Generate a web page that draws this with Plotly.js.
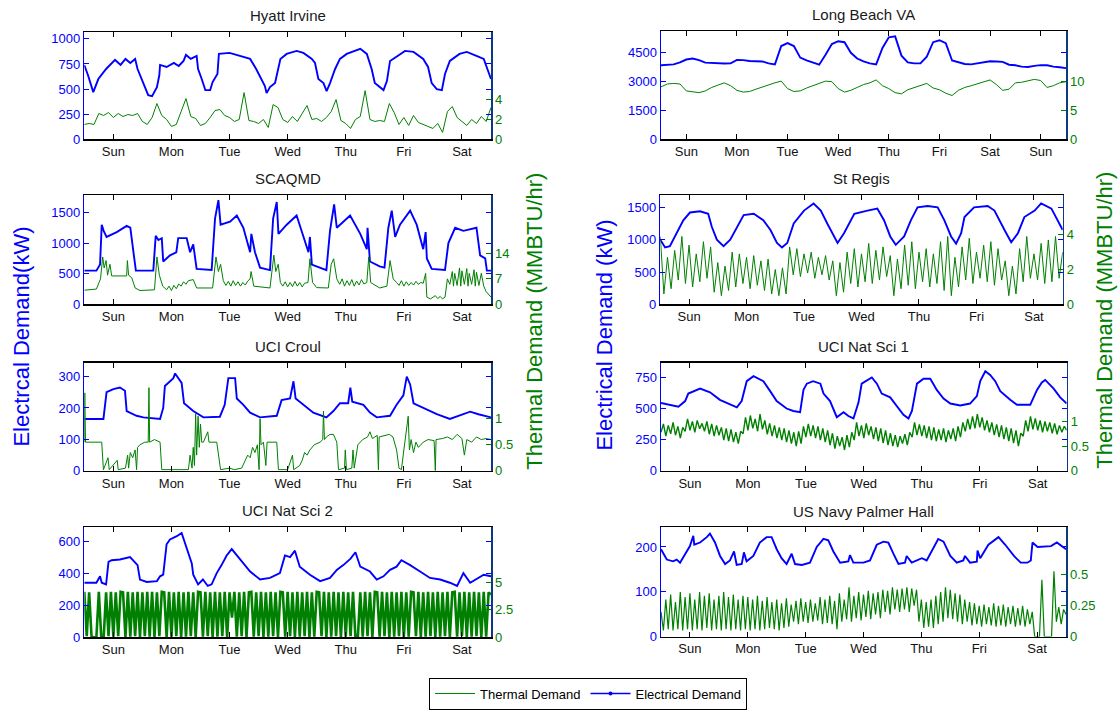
<!DOCTYPE html>
<html><head><meta charset="utf-8">
<script src="https://cdn.plot.ly/plotly-3.0.1.min.js"></script>
<style>html,body{margin:0;padding:0;background:#fff}#chart{width:1118px;height:710px}</style>
</head><body><div id="chart"></div>
<script>
// ---------- tick labels / titles ----------
const dayLabels = ['Sun','Mon','Tue','Wed','Thu','Fri','Sat','Sun'];
const panelTitles = ['Hyatt Irvine','Long Beach VA','SCAQMD','St Regis','UCI Croul','UCI Nat Sci 1','UCI Nat Sci 2','US Navy Palmer Hall'];

// ---------- Hyatt Irvine ----------
const hyattElecHours = [0,1.5,3.7,5.8,9,12.7,15,17,19,21,22,24.4,26.4,28,30,31,31.3,34,37,39,41,42,44,46.4,47,48.5,50,52,53,55,55.6,60,65.7,68.5,71,73,74.6,75.3,76.7,78.8,81,83.6,87.7,90.5,94,95.3,96.7,98.8,100.1,101.5,103.6,105.6,108.4,114,116.7,118.7,120,123.6,125,126.3,129,132.5,136,140,142,143.5,145.6,147.7,149,151,155,158,162,165,168];
const hyattElec = [740,640,470,600,700,790,740,800,760,800,700,560,440,430,520,640,740,720,760,730,780,840,800,830,700,600,490,490,570,650,850,860,820,800,700,600,530,460,520,560,800,850,880,860,800,760,600,560,480,560,700,800,850,900,850,700,560,490,580,780,820,880,870,800,720,560,500,490,650,780,850,870,830,800,600];
const hyattThermal = [1.5,1.6,1.5,2.6,2.4,2.7,2.2,2.6,2.3,2.5,2.4,2.6,1.8,1.5,2.2,3.6,2.4,2.0,1.3,1.5,2.8,4.1,2.3,2.1,1.4,1.6,2.2,2.9,3.0,2.4,2.2,1.8,2.0,4.7,1.9,1.8,1.6,2.0,1.2,3.5,3.2,2.0,1.7,2.3,1.8,2.6,3.4,2.0,2.1,1.8,2.2,2.8,4.0,1.9,1.6,1.1,2.0,2.3,4.9,2.0,1.8,1.9,1.8,3.6,2.7,1.5,2.2,1.4,2.4,1.7,1.5,1.3,1.1,1.6,0.7,2.8,3.3,2.2,1.8,1.4,2.0,1.6,2.3,1.8,3.2];

// ---------- Long Beach VA (3 h samples, 8 days) ----------
const lbElec = [3850,3860,3900,4000,4150,4200,4120,3990,3970,3950,3940,3950,4130,4120,4070,4060,4050,3950,3900,4850,5000,4850,4250,4100,3980,3880,4400,4950,5100,5050,4500,4200,4050,3950,3900,4750,5300,5350,4350,4000,3950,3950,4300,5050,5150,5000,4100,4000,3920,3900,3950,4030,4060,4050,4030,3880,3850,3780,3760,3820,3860,3850,3780,3750,3700];
const lbThermal = [9.1,9.6,9.7,9.6,8.4,8.2,8.1,8.4,9.0,9.4,9.8,9.3,8.5,8.2,8.3,8.7,9.1,9.4,9.8,10.1,8.8,8.3,8.4,8.9,9.3,9.7,10.1,10.0,8.8,8.2,8.5,9.0,9.5,9.8,10.3,9.3,8.8,8.1,7.9,8.6,9.0,9.3,9.7,8.9,8.6,8.0,7.6,8.5,9.0,9.3,9.6,10.0,10.3,9.5,8.5,8.7,9.8,9.9,10.1,10.4,10.2,9.0,9.3,9.8,10.0];

// ---------- SCAQMD ----------
const scaqElecHours = [0,5,6.5,7.2,8,9.2,13.4,17.5,19,20,21.3,28.5,29.5,30.6,32,32.6,35.4,38,38.8,42.3,43.7,45,46.4,52.6,54,55.4,56.3,60.2,63,65.7,68.5,69,70.5,72.6,76.7,78,79.5,80.2,83.6,87.7,90.5,92.6,93.2,94,100,101.5,103.2,104.3,109.8,114,116.7,117,118,122,124,125.6,127,128.4,130.4,134.6,137.3,140,141,141.5,143.5,149,150.4,153.2,156.6,162,163.5,165.6,166.3,168];
const scaqElec = [550,550,650,1300,1200,1100,1180,1280,1250,900,550,550,1120,1050,1080,700,800,850,1080,1080,850,980,580,560,1400,1700,1300,1350,1450,1250,850,1150,850,600,560,1400,1670,1150,1300,1450,1100,850,1100,650,560,1200,1630,1250,1450,1150,900,1250,700,620,600,1250,1530,1100,1300,1530,1300,900,1180,750,580,560,1000,1250,1200,1250,800,750,550,550];
const scaqThermHours = [0,5,6.7,7.6,8.2,9,9.6,10.6,11.3,17.5,17.8,18.3,19.6,21,23,29,30,31,32.4,34,35,36,37,38,39,40,41,42,43,45,46.4,53,54.4,55.4,56.3,57.4,58.5,59.5,60.5,61.5,62.5,63.5,64.5,65.5,66.5,67.5,68.5,68.9,70,76.7,78.3,79.1,80.1,81,82,83,84,85,86,87,88,89,90,91,92.4,93.2,94.3,96,100.8,102,103,104.3,105.5,106.5,107.5,108.5,109.5,110.5,111.5,112.5,113.5,114.5,115.5,116.7,117.5,118.3,122,125,126.3,127.6,129,130,131,132,133,134,135,136,137,138,139,140,141,141.5,143,145,146,147,148,149,150,151,152,152.5,153,154,155,155.5,156,157,158,158.5,159,160,161,161.5,162,163,164,165,166,168];
const scaqThermal = [3.9,4.2,7,13,10,12,8,11,7.8,7.8,12,8,7.3,4.5,3.8,4,13,8,5,4.0,5,3.8,5.2,4.3,5.6,5.0,6.2,5.5,6.5,6.8,4.5,4.5,13,9,11,6.5,5.2,6.3,5.0,6.5,5.2,6.2,5.0,6.0,5.3,6.4,7,9,5.0,4.5,13.5,9,11,6,5.0,6.2,4.8,6.0,4.9,6.3,5.0,6.0,4.8,5.8,6,12.5,6,4.6,4.5,11,12.5,7,5.5,7.0,5.0,6.5,5.2,6.8,5.0,6.4,5.3,6.8,5.6,6,13,6,4.5,5,12,7,6,5.2,6.5,5.0,6.2,5.2,6.0,5.3,6.3,5.5,6.0,5.8,8.5,2,1.5,2.4,1.6,2.2,1.5,2.0,7,5.5,9,5,8.5,5.2,10,5,9.2,5.5,9.8,5.0,8.5,5.5,9.5,5.0,8.8,5.2,8.5,5.0,3.5,2];

// ---------- St Regis ----------
const stRegisElecHours = [0,2,4,6.8,9.6,12.4,16.6,20,21.5,23.6,26.4,29.2,32,34.8,39,43,46,48.7,50.8,53,55.7,60,64,67,69.7,74,76.7,81,86.5,90.6,93.4,96,98.3,101.8,104.6,107.4,111.6,115.8,118.6,121.4,123.5,125.6,127,131,136.7,139.5,143.7,146.5,149.3,152,156.3,159,163.3,166,168];
const stRegisElec = [1000,880,900,1100,1300,1420,1440,1400,1200,1000,900,1000,1200,1380,1400,1300,1150,950,880,950,1250,1450,1560,1450,1250,950,1100,1400,1450,1480,1300,1050,920,1050,1300,1500,1520,1500,1300,1050,940,1100,1350,1500,1520,1450,1150,960,1100,1350,1450,1560,1480,1300,1150];
const stRegisThermal = [3.9,0.6,2.7,0.9,3.1,1.4,3.9,1.2,3.4,1.0,2.9,1.3,3.6,1.5,3.3,0.7,
 2.4,0.5,2.2,0.8,3.0,1.0,2.9,1.2,2.7,0.9,2.8,1.1,2.5,0.8,2.6,0.6,
 2.0,0.5,2.1,0.6,3.3,1.7,3.2,1.6,2.9,1.8,3.0,1.5,2.7,1.7,2.8,1.4,
 2.5,0.5,2.4,0.7,3.0,1.2,3.2,1.0,2.9,1.3,3.5,1.2,3.1,1.4,3.3,1.6,
 2.8,0.5,2.6,0.9,3.4,1.1,3.6,0.9,3.0,1.3,3.2,1.0,2.9,1.2,3.6,0.8,
 3.9,0.5,2.7,1.0,3.3,1.4,3.8,1.2,3.0,1.5,3.4,1.3,3.6,1.1,3.2,1.4,
 2.5,0.5,2.2,0.6,3.2,1.3,3.9,1.5,2.9,1.4,3.5,1.2,3.7,1.3,3.9,1.5,3.0];

// ---------- UCI Croul ----------
const croulElecHours = [0,7.9,9.2,12,14.7,16.8,17.5,21.6,24.4,31.3,32.6,33.3,36.8,37.5,40.2,41.2,45,49.2,56,58,59.5,62.3,63,65.7,68.5,72.6,79.5,81.5,85,86.4,87.3,90.5,94.6,100,102.9,105.6,109,109.9,110.7,115.3,118,120.8,126.3,129,131.8,133.2,134.6,136,140,145.6,151,156.6,159.4,162.8,168];
const croulElec = [165,165,250,260,265,255,190,175,170,165,200,270,295,310,280,215,190,170,172,210,295,295,230,210,185,170,175,225,230,285,230,210,185,170,190,215,215,265,220,210,185,170,175,210,240,300,275,215,200,180,165,180,188,180,170];
const croulThermHours = [0,0.2,0.5,5,7.2,7.9,9.8,10.3,13.6,14,17,17.9,18.3,19,20,21,21.6,22,23,25,26.4,26.7,27,29,31.3,32,43,43.7,44.5,45,45.5,46,46.4,47,47.5,48,48.5,49.2,51,51.5,54.7,56.3,60,62,65,67.5,68.5,69.5,70.5,71.5,72.2,72.6,73,74,75,75.5,79.5,80.2,84,86,86.5,89,90,91,92,93.2,95,97.4,98.5,98.8,99.2,100,101.5,102.9,104.3,105,107.5,107.8,108.3,110.5,111,111.5,113,115,117,118,119,121,121.5,121.8,124,126,127.5,129,130,131,132,133.8,134.3,135,136,137,138,140,142,144.5,145,145.3,148,150,152,154,156,157,158,160,162,164,166,168];
const croulThermal = [0.55,1.5,0.55,0.55,0.55,0.02,0.25,0.02,0.2,0.02,0.05,0.3,0.05,0.35,0.25,0.4,0.02,0.45,0.5,0.55,0.55,1.6,0.55,0.6,0.55,0.02,0.02,0.3,0.05,0.45,0.1,1.1,0.3,1.05,0.45,0.9,0.55,0.55,0.75,0.55,0.55,0.02,0.05,0.02,0.05,0.3,0.25,0.45,0.35,0.5,0.02,1.0,0.5,0.55,0.1,0.55,0.55,0.02,0.02,0.3,0.02,0.1,0.2,0.35,0.3,0.4,0.5,0.55,0.6,1.15,0.6,0.65,0.7,0.7,0.55,0.02,0.05,0.4,0.02,0.05,0.4,0.05,0.5,0.6,0.65,0.75,0.62,0.68,0.02,0.65,0.68,0.7,0.65,0.4,0.05,0.02,0.4,1.05,0.4,0.6,0.35,0.55,0.45,0.55,0.6,0.58,0.0,0.6,0.62,0.65,0.6,0.7,0.62,0.3,0.6,0.55,0.65,0.6,0.62,0.6];

// ---------- UCI Nat Sci 1 ----------
const ns1ElecHours = [0,3.7,7.2,10,11.3,16.2,20.3,24.4,28.6,31.4,33.4,35.5,38.3,42.4,45.2,47.9,52,54.8,57.6,59,60.4,63,66,67.3,70,72.8,75.6,77.6,79.7,81.8,83.1,87.3,89.4,91.4,94.9,97.7,100.4,102.5,103.9,106,108.7,111.5,114.2,117,119.8,123.9,128,130.8,132.2,134.3,136.3,138.4,140.5,144.6,147.4,152.9,155.7,157.7,159.1,162.6,165.3,168];
const ns1Elec = [545,530,515,560,620,660,630,570,530,510,560,720,760,720,640,560,500,480,470,650,700,720,700,620,560,430,470,440,420,550,700,750,700,620,590,520,450,420,480,700,740,740,650,580,540,525,540,600,720,800,770,720,640,570,530,530,650,710,730,660,590,540];
const ns1Thermal = [0.78,0.95,0.70,0.92,0.75,0.98,0.72,0.90,0.66,0.88,
 0.80,1.05,0.82,1.00,0.78,1.02,0.85,0.96,0.80,1.00,
 0.74,0.95,0.70,0.92,0.72,0.88,0.62,0.86,0.60,0.84,
 0.58,0.78,0.55,0.80,0.75,1.08,0.82,1.12,0.86,1.05,
 0.80,1.15,0.84,1.02,0.74,0.96,0.70,0.92,0.66,0.88,
 0.62,0.86,0.58,0.82,0.55,0.78,0.50,0.80,0.55,0.90,
 0.68,0.95,0.70,0.92,0.66,0.90,0.62,0.86,0.58,0.82,
 0.52,0.76,0.45,0.70,0.50,0.68,0.42,0.72,0.48,0.78,
 0.62,0.98,0.70,0.92,0.66,0.96,0.72,0.90,0.64,0.88,
 0.60,0.86,0.56,0.82,0.52,0.76,0.50,0.72,0.48,0.70,
 0.55,0.74,0.52,0.78,0.68,0.98,0.72,0.94,0.70,0.92,
 0.66,0.90,0.62,0.88,0.60,0.84,0.62,0.86,0.58,0.82,
 0.64,0.86,0.60,0.90,0.68,0.98,0.80,1.05,0.84,1.10,
 0.86,1.15,0.88,1.08,0.82,1.02,0.78,0.98,0.72,0.94,
 0.68,0.92,0.64,0.88,0.60,0.86,0.56,0.82,0.50,0.76,
 0.70,1.02,0.80,1.10,0.84,1.06,0.82,1.02,0.78,1.00,
 0.80,0.98,0.76,0.96,0.74,0.92,0.78,0.90,0.82];

// ---------- UCI Nat Sci 2 ----------
const ns2ElecHours = [0,5,6.5,7.2,9,10,11.3,14.7,18.9,21,22,23,25.8,30,31.3,32.6,34,35.4,38.2,40.2,42.3,44.4,45,47,49,51,52.6,54.7,56.7,58.8,60.9,64.3,68.5,72.6,76.7,80.8,82.9,85,87,89,93.2,97.4,101.5,104.3,107,110,112,114,118,120.8,123.6,126.3,129,131,134.6,138.7,142.8,147,151,154,156.6,159.4,165,168];
const ns2Elec = [340,340,380,340,330,470,480,485,500,470,450,360,345,350,380,390,580,610,630,650,560,460,390,330,360,320,330,400,450,510,550,490,410,360,370,400,510,500,540,440,390,350,370,420,450,490,530,440,410,360,380,420,440,480,450,410,370,360,340,320,400,340,390,380];
const ns2Thermal = [4.15,0.1,4.1,0.05,0.0,0.0,4.15,0.0,0.0,4.1,
 0.1,4.15,0.05,4.1,0.1,4.15,4.1,0.0,4.15,0.05,
 4.1,0.1,4.15,0.0,4.1,0.1,4.15,0.05,4.15,0.0,
 4.1,0.1,4.15,4.1,0.0,4.15,0.05,4.1,0.1,4.15,
 0.0,4.1,0.05,4.15,0.1,4.1,0.0,4.15,4.1,0.05,
 4.15,0.1,4.1,0.0,4.15,0.05,4.1,0.1,4.15,0.0,
 4.1,1.8,4.15,0.05,4.1,0.1,4.15,0.0,4.1,4.15,
 0.05,4.1,0.1,4.15,0.0,4.1,0.05,4.15,0.1,4.1,
 0.0,4.15,4.1,0.05,4.15,0.1,4.1,0.0,4.15,0.05,
 4.1,0.1,4.15,0.0,4.1,0.05,4.15,4.1,0.1,4.15,
 0.0,4.1,0.05,4.15,0.1,4.1,0.0,4.15,0.05,4.1,
 0.1,4.15,0.0,0.0,4.1,0.05,4.15,0.1,4.1,0.0,
 4.15,4.1,0.05,4.15,0.1,4.1,0.0,4.15,0.05,4.1,
 0.1,4.15,0.0,4.1,0.05,4.15,4.1,0.1,4.15,0.0,
 4.1,0.05,4.15,0.1,4.1,0.0,4.15,0.05,4.1,0.1,
 4.15,0.0,4.1,4.15,0.05,4.1,0.1,4.15,0.0,4.1,
 0.05,4.15,0.1,4.1,0.0,4.15,0.05,4.1,3.9];

// ---------- US Navy Palmer Hall ----------
const navyElecHours = [0,2.4,5,6.5,7.9,10.6,12,13.4,13.8,16.2,19,20.3,22.4,24.5,26.6,28.6,30.3,31.4,33.5,34.4,35.5,38.3,41,43.8,45.9,48,50,52.1,54.2,55.6,58.4,61.8,64.6,67.4,69.4,71.5,74.3,77.7,78.4,79.8,84,86.7,89.5,92.3,94.3,96.4,98.5,101.2,101.9,104,108.2,110.2,113,115,117.2,120,122.7,125.4,126.1,128.2,131,131.3,132.4,135.8,140,142.8,146.4,149.2,152,153.4,154.1,156.2,161.8,164.2,168];
const navyElec = [195,172,168,172,165,190,202,225,205,210,222,230,210,180,162,170,190,160,162,188,168,180,210,222,222,195,175,162,185,162,160,165,200,218,215,190,165,168,182,165,165,170,205,212,210,185,162,165,180,165,175,170,200,218,212,180,165,170,180,165,167,192,175,205,222,205,180,165,165,170,210,200,202,210,195];
const navyThermal = [0.20,0.05,0.30,0.06,0.34,0.05,0.28,0.06,0.36,0.05,
 0.32,0.06,0.35,0.05,0.30,0.06,0.36,0.05,0.33,0.07,
 0.35,0.05,0.30,0.06,0.33,0.05,0.36,0.06,0.32,0.05,
 0.34,0.06,0.30,0.05,0.33,0.06,0.32,0.05,0.30,0.06,
 0.33,0.05,0.29,0.06,0.32,0.07,0.28,0.06,0.30,0.05,
 0.27,0.07,0.31,0.08,0.26,0.12,0.29,0.10,0.31,0.12,
 0.28,0.11,0.30,0.12,0.27,0.13,0.32,0.10,0.30,0.11,
 0.33,0.10,0.29,0.06,0.35,0.12,0.30,0.14,0.40,0.12,
 0.33,0.15,0.36,0.13,0.34,0.16,0.37,0.14,0.35,0.18,
 0.36,0.15,0.38,0.20,0.37,0.18,0.40,0.22,0.38,0.20,
 0.39,0.22,0.40,0.20,0.39,0.25,0.38,0.12,0.30,0.07,
 0.28,0.08,0.30,0.07,0.33,0.10,0.36,0.12,0.40,0.15,
 0.38,0.14,0.35,0.12,0.34,0.10,0.30,0.12,0.28,0.09,
 0.27,0.10,0.25,0.08,0.26,0.10,0.24,0.09,0.27,0.08,
 0.25,0.09,0.26,0.08,0.24,0.10,0.25,0.08,0.23,0.09,
 0.25,0.08,0.22,0.10,0.20,0.0,0.0,0.0,0.46,0.0,
 0.0,0.0,0.0,0.53,0.12,0.24,0.10,0.22,0.18];

// ---------- helpers ----------
function sampleHours(step, n){ const a=[]; for(let i=0;i<n;i++) a.push(i*step); return a; }

const W=1118, H=710;
const panels = [
 {eh:hyattElecHours, ev:hyattElec, th:sampleHours(2,hyattThermal.length), tv:hyattThermal, yr:1066, y2r:10.77, yt:[0,250,500,750,1000], y2t:[0,2,4], days:7, px:[84.3,491], py:[32.3,140], tw:1},
 {eh:sampleHours(3,lbElec.length), ev:lbElec, th:sampleHours(3,lbThermal.length), tv:lbThermal, yr:5638, y2r:18.8, yt:[0,1500,3000,4500], y2t:[0,5,10], days:8, px:[661,1066], py:[31,140], tw:1},
 {eh:scaqElecHours, ev:scaqElec, th:scaqThermHours, tv:scaqThermal, yr:1786, y2r:30, yt:[0,500,1000,1500], y2t:[0,7,14], days:7, px:[84.3,491], py:[195.7,305.7], tw:1},
 {eh:stRegisElecHours, ev:stRegisElec, th:sampleHours(1.5,stRegisThermal.length), tv:stRegisThermal, yr:1688, y2r:6.27, yt:[0,500,1000,1500], y2t:[0,2,4], days:7, px:[660.3,1062.7], py:[196,305.7], tw:1},
 {eh:croulElecHours, ev:croulElec, th:croulThermHours, tv:croulThermal, yr:344, y2r:2.08, yt:[0,100,200,300], y2t:[0,0.5,1], days:7, px:[84.3,491], py:[364.3,472.7], tw:1},
 {eh:ns1ElecHours, ev:ns1Elec, th:sampleHours(1,ns1Thermal.length), tv:ns1Thermal, yr:868, y2r:2.19, yt:[0,250,500,750], y2t:[0,0.5,1], days:7, px:[661,1066.7], py:[364.3,472.7], tw:1.4},
 {eh:ns2ElecHours, ev:ns2Elec, th:sampleHours(1,ns2Thermal.length), tv:ns2Thermal, yr:687, y2r:10.06, yt:[0,200,400,600], y2t:[0,2.5,5], days:7, px:[84.3,491], py:[529.3,640], tw:2.6},
 {eh:navyElecHours, ev:navyElec, th:sampleHours(1,navyThermal.length), tv:navyThermal, yr:243.6, y2r:0.884, yt:[0,100,200], y2t:[0,0.25,0.5], days:7, px:[661,1066], py:[529.7,639.3], tw:1.2}
];

const FONT = 'Liberation Sans, Arial, Helvetica, sans-serif';
const BLUE = '#0000ff', GREEN = '#008000';
const traces = [];
const layout = {
  width:W, height:H, margin:{l:0,r:0,t:0,b:0}, paper_bgcolor:'#fff', plot_bgcolor:'#fff',
  font:{family:FONT, size:13, color:'#000'}, showlegend:true,
  legend:{orientation:'h', x:0.526, xanchor:'center', y:0.019, yanchor:'middle', bordercolor:'#000', borderwidth:1, bgcolor:'#fff', font:{size:13,color:'#000',family:FONT}, itemwidth:40},
  annotations:[]
};

panels.forEach((p,i)=>{
  const n=i+1;
  const xa = n===1?'x':'x'+n;
  const ya = (2*n-1)===1?'y':'y'+(2*n-1);
  const ya2 = 'y'+(2*n);
  const xKey = n===1?'xaxis':'xaxis'+n;
  const yKey = (2*n-1)===1?'yaxis':'yaxis'+(2*n-1);
  const y2Key = 'yaxis'+(2*n);
  const tickvals=[], ticktext=[];
  for(let d=0; d<p.days; d++){ tickvals.push(12+24*d); ticktext.push(dayLabels[d]); }
  layout[xKey] = {domain:[p.px[0]/W, p.px[1]/W], anchor:ya, range:[0,p.days*24], tickvals, ticktext,
    ticks:'inside', ticklen:5, tickcolor:'#000', showline:true, linecolor:'#000', linewidth:1.3, mirror:'ticks',
    showgrid:false, zeroline:false, tickfont:{size:13,color:'#111',family:FONT}, fixedrange:true};
  layout[yKey] = {domain:[1-p.py[1]/H, 1-p.py[0]/H], anchor:xa, range:[0,p.yr], tickvals:p.yt,
    ticks:'inside', ticklen:5, tickcolor:BLUE, showline:true, linecolor:BLUE, linewidth:1.5, mirror:'ticks',
    showgrid:false, zeroline:false, tickfont:{size:13,color:BLUE,family:FONT}, fixedrange:true};
  layout[y2Key] = {overlaying:ya, anchor:xa, side:'right', range:[0,p.y2r], tickvals:p.y2t,
    ticks:'inside', ticklen:5, tickcolor:GREEN, showline:true, linecolor:'#0b3a82', linewidth:1.5,
    showgrid:false, zeroline:false, tickfont:{size:13,color:GREEN,family:FONT}, fixedrange:true};
  traces.push({x:p.eh, y:p.ev, xaxis:xa, yaxis:ya, type:'scatter', mode:'lines', line:{color:BLUE,width:1.9}, showlegend:false, hoverinfo:'skip'});
  traces.push({x:p.th, y:p.tv, xaxis:xa, yaxis:ya2, type:'scatter', mode:'lines', line:{color:GREEN,width:p.tw}, showlegend:false, hoverinfo:'skip'});
  layout.annotations.push({text:panelTitles[i], xref:'paper', yref:'paper', x:(p.px[0]+p.px[1])/2/W, y:1-(p.py[0]-16.5)/H,
    xanchor:'center', yanchor:'middle', showarrow:false, font:{size:15,color:'#1a1a1a',family:FONT}});
});

// legend entries
traces.push({x:[null], y:[null], xaxis:'x', yaxis:'y2', type:'scatter', mode:'lines', name:'Thermal Demand', line:{color:GREEN,width:1}});
traces.push({x:[null], y:[null], xaxis:'x', yaxis:'y', type:'scatter', mode:'lines+markers', name:'Electrical Demand', line:{color:BLUE,width:1.5}, marker:{color:BLUE,size:4}});

// axis labels
const ylab = (text, x, y, color) => ({text, xref:'paper', yref:'paper', x:x/W, y:1-y/H, xanchor:'center', yanchor:'middle',
  textangle:-90, showarrow:false, font:{size:22,color,family:FONT}});
layout.annotations.push(ylab('Electrcal Demand(kW)', 22, 338, BLUE));
layout.annotations.push(ylab('Thermal Demand (MMBTU/hr)', 535, 323, GREEN));
layout.annotations.push(ylab('Electrical Demand (kW)', 605, 337, BLUE));
layout.annotations.push(ylab('Thermal Demand (MMBTU/hr)', 1105, 322, GREEN));

Plotly.newPlot('chart', traces, layout, {displayModeBar:false, staticPlot:true});
</script>
</body></html>
